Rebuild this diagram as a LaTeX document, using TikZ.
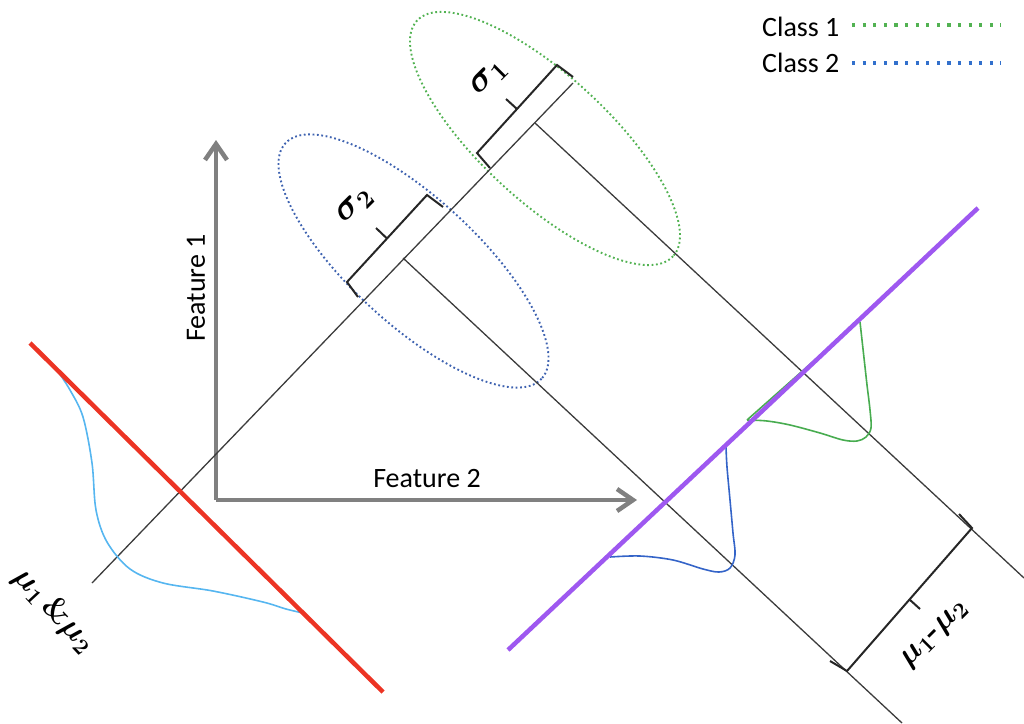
\RequirePackage{fix-cm}
\documentclass[tikz,border=0pt]{standalone}
\usepackage{fontspec}
\usepackage{amsmath}
\usepackage{bm}
\newfontfamily\labelsans{Carlito}
\usetikzlibrary{arrows.meta}

\definecolor{axisgray}{RGB}{128,128,128}
\definecolor{thingray}{RGB}{60,60,60}
\definecolor{projred}{RGB}{236,52,36}
\definecolor{projpurple}{RGB}{158,88,240}
\definecolor{dotgreen}{RGB}{82,178,82}
\definecolor{dotblue}{RGB}{62,98,176}
\definecolor{legblue}{RGB}{50,112,204}
\definecolor{curvegreen}{RGB}{72,172,80}
\definecolor{curveblue}{RGB}{52,100,200}
\definecolor{curvesky}{RGB}{86,182,240}

\begin{document}
\begin{tikzpicture}[x=1pt,y=-1pt,
  axisarrow/.style={draw=axisgray,line width=4.5pt,
    -{Straight Barb[length=16pt,width=22pt]}},
  thinline/.style={draw=thingray,line width=1.3pt},
  bracketline/.style={draw=black!85,line width=2pt,line join=miter},
  projline/.style={line width=4.5pt},
  ellipsedots/.style={line width=1.9pt,dash pattern=on 1.8pt off 2.6pt},
  legenddots/.style={line width=3.2pt,dash pattern=on 3.2pt off 7.4pt},
  density/.style={line width=1.6pt},
  sanslabel/.style={font=\labelsans\fontsize{28}{30}\selectfont,inner sep=0pt},
  sigmalabel/.style={font=\fontsize{36}{38}\selectfont,inner sep=0pt},
  mulabel/.style={font=\fontsize{32}{34}\selectfont,inner sep=0pt}]

\useasboundingbox (0,0) rectangle (1024,723);

% ---- key points -------------------------------------------------------
\coordinate (m0) at (92,583);   \coordinate (m1) at (573,83);
\coordinate (p1s) at (535,123); \coordinate (p1e) at (1024,578);
\coordinate (p2s) at (403,258); \coordinate (p2e) at (902,723);
\coordinate (r0) at (30,343);   \coordinate (r1) at (383,692);
\coordinate (v0) at (508,650);  \coordinate (v1) at (978,208);
\coordinate (o) at (216,500);
\coordinate (ay) at (216,140);
\coordinate (ax) at (637,500);
\coordinate (c1) at (545,138.5);
\coordinate (c2) at (413.5,261);

% ---- class ellipses ---------------------------------------------------
\draw[ellipsedots,dotgreen,rotate around={-42.6:(c1)}]
  (c1) ellipse [x radius=174,y radius=63];
\draw[ellipsedots,dotblue,rotate around={-42.6:(c2)}]
  (c2) ellipse [x radius=174,y radius=63];

% ---- feature axes -----------------------------------------------------
\draw[axisarrow] (o) -- (ay);
\draw[axisarrow] (o) -- (ax);
\node[sanslabel,rotate=90] (f1) at (196,288) {Feature 1};
\node[sanslabel] (f2) at (427,479) {Feature 2};

% ---- projection direction and perpendiculars ------------------------
\draw[thinline] (m0) -- (m1);
\draw[thinline] (p1s) -- (p1e);
\draw[thinline] (p2s) -- (p2e);

% ---- densities on the purple axis ----------------------------------
\draw[density,curvegreen] plot[smooth,tension=0.55] coordinates {
  (747,420) (767,421) (790,425) (820,433) (843,440) (857,441) (866,437)
  (871,428) (870,410) (867,385) (865,367) (862,340) (860,322)};
\draw[density,curvegreen] (860,320) -- (747,420);
\draw[density,curveblue] plot[smooth,tension=0.55] coordinates {
  (610,557) (640,556) (673,560) (703,569) (719,572) (730,568) (735,555)
  (733,533) (730,500) (727,467) (726,447)};

% ---- projection lines ----------------------------------------------
\draw[projline,projpurple] (v0) -- (v1);

\draw[density,curvesky] plot[smooth,tension=0.55] coordinates {
  (57,370) (70,390) (83,417) (92,463) (96,510) (107,542) (130,569)
  (163,583) (213,591) (263,602) (286,609) (303,613)};
\draw[projline,projred] (r0) -- (r1);

% ---- sigma brackets ------------------------------------------------
\coordinate (s1a) at (490,168); \coordinate (s1b) at (477,153);
\coordinate (s1c) at (557,65);  \coordinate (s1d) at (573,77);
\coordinate (s1m) at (517,109); \coordinate (s1t) at (506,99);
\draw[bracketline] (s1a) -- (s1b) -- (s1c) -- (s1d);
\draw[bracketline] (s1m) -- (s1t);
\node[sigmalabel,rotate=45] (sig1) at (489,78) {$\bm{\sigma}_{\bm{1}}$};

\coordinate (s2a) at (358,297); \coordinate (s2b) at (347,282);
\coordinate (s2c) at (427,195); \coordinate (s2d) at (443,207);
\coordinate (s2m) at (387,238.5); \coordinate (s2t) at (376,228);
\draw[bracketline] (s2a) -- (s2b) -- (s2c) -- (s2d);
\draw[bracketline] (s2m) -- (s2t);
\node[sigmalabel,rotate=45] (sig2) at (355,206) {$\bm{\sigma}_{\bm{2}}$};

% ---- mean difference bracket --------------------------------------
\coordinate (d0) at (830,661); \coordinate (d1) at (847,671);
\coordinate (d2) at (972,528); \coordinate (d3) at (959,514);
\coordinate (dm) at (909.5,599.5); \coordinate (dt) at (920,609);
\draw[bracketline] (d0) -- (d1) -- (d2) -- (d3);
\draw[bracketline] (dm) -- (dt);
\node[mulabel,rotate=45] (mudiff) at (935,635)
  {$\bm{\mu}_{\bm{1}}$\textbf{-}$\bm{\mu}_{\bm{2}}$};

\node[mulabel,rotate=-47] (musame) at (54,610)
  {$\bm{\mu}_{\bm{1}}$\,\textbf{\&}$\bm{\mu}_{\bm{2}}$};

% ---- legend --------------------------------------------------------
\node[sanslabel,anchor=west] (l1) at (762,27) {Class 1};
\node[sanslabel,anchor=west] (l2) at (762,63) {Class 2};
\coordinate (g0) at (852,25); \coordinate (g1) at (1001,25);
\coordinate (b0) at (852,63); \coordinate (b1) at (1001,63);
\draw[legenddots,dotgreen] (g0) -- (g1);
\draw[legenddots,legblue] (b0) -- (b1);

\end{tikzpicture}
\end{document}
